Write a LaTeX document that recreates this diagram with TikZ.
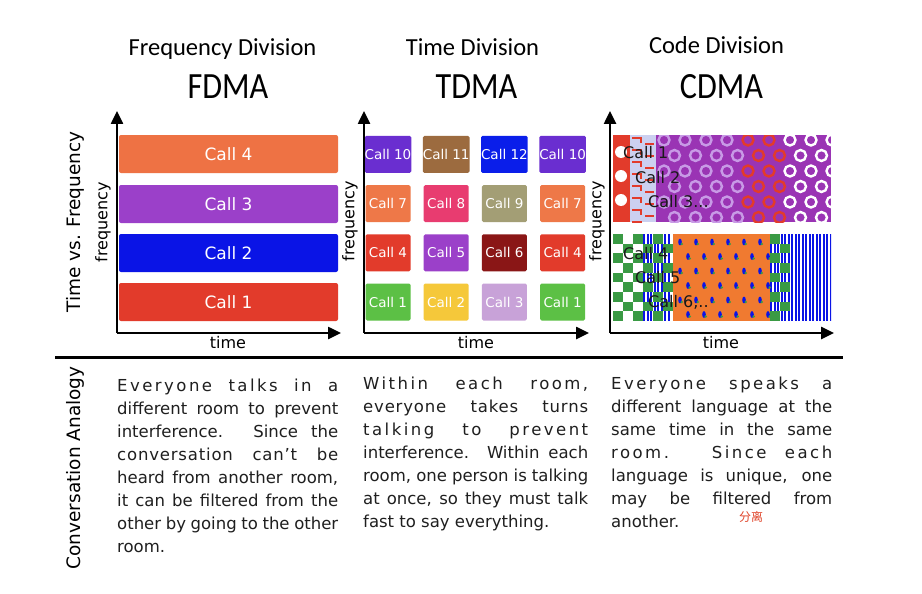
\documentclass[tikz,border=0pt]{standalone}
\usepackage{fontspec}
\setmainfont{DejaVu Sans}
\newfontfamily\titlefont{Carlito}
\newfontfamily\acrofont{Carlito}[FakeStretch=0.87]
\newfontfamily\cjkfont{Noto Sans CJK SC}
\usetikzlibrary{arrows.meta}

\definecolor{fdorange}{HTML}{EE7244}
\definecolor{fdpurple}{HTML}{9B40C9}
\definecolor{fdblue}{HTML}{0A14E6}
\definecolor{fdred}{HTML}{E23B2B}
\definecolor{tdviolet}{HTML}{6A2ED0}
\definecolor{tdbrown}{HTML}{9C6B3F}
\definecolor{tdblue}{HTML}{0A1EEA}
\definecolor{tdorange}{HTML}{EE7848}
\definecolor{tdpink}{HTML}{E83C70}
\definecolor{tdkhaki}{HTML}{A39E75}
\definecolor{tdmaroon}{HTML}{8A1616}
\definecolor{tdgreen}{HTML}{5CC045}
\definecolor{tdyellow}{HTML}{F5C83A}
\definecolor{tdlilac}{HTML}{C8A2D8}
\definecolor{cdpurple}{HTML}{9A34B4}
\definecolor{cdlilac}{HTML}{C89AE6}
\definecolor{cdpale}{HTML}{CCD0F0}
\definecolor{cdgreen}{HTML}{3A9A44}
\definecolor{cdorange}{HTML}{F07A30}
\definecolor{inkred}{HTML}{E0452A}

% Tracked-out lines of the justified analogies
\newcommand{\wide}[1]{{\addfontfeature{LetterSpace=15}#1}}
\newcommand{\loose}[1]{{\addfontfeature{LetterSpace=5}#1}}

\tikzset{
    % Heavy triangular heads for the chart axes
    >={Triangle[length=13pt,width=12pt]},
%
    % The time and frequency axes of each chart
    chart axis/.style={draw, line width=2.5pt, ->},
%
    % One frequency band of the FDMA chart
    fd band/.style={rectangle, rounded corners=2pt, minimum width=219pt,
        minimum height=38pt, text=white, font=\fontsize{17}{17}\selectfont},
%
    % One time slot of the TDMA chart
    td slot/.style={rectangle, rounded corners=1.5pt, minimum width=45pt,
        minimum height=37pt, inner sep=0pt, text=white,
        font=\fontsize{13.5}{13.5}\selectfont},
%
    % Call names written over the CDMA codes
    code label/.style={anchor=west, inner sep=0pt, text=black!90,
        font=\fontsize{16}{16}\selectfont},
%
    % Texts round the charts
    axis label/.style={font=\fontsize{16}{16}\selectfont},
    side label/.style={rotate=90, font=\fontsize{18.5}{18.5}\selectfont},
    head title/.style={anchor=base, font=\titlefont\fontsize{24.5}{24.5}\selectfont},
    acronym/.style={anchor=base, font=\acrofont\fontsize{37}{37}\selectfont},
    analogy/.style={anchor=north west, inner sep=0pt, align=justify,
        text=black!88, font=\fontsize{16.5}{23}\selectfont}}

\begin{document}
\begin{tikzpicture}[x=1pt, y=-1pt]

\useasboundingbox (0,0) rectangle (922,594);
\fill[white] (0,0) rectangle (922,594);

% titles
\node[head title] (fd-title) at (222.5,56) {Frequency Division};
\node[head title] (td-title) at (472.5,56) {Time Division};
\node[head title] (cd-title) at (716.5,54) {Code Division};
\node[acronym] (fd-name) at (228,99) {FDMA};
\node[acronym] (td-name) at (476.5,99) {TDMA};
\node[acronym] (cd-name) at (721.5,99) {CDMA};

\node[side label] (tf-label) at (75,222) {Time vs. Frequency};
\node[side label] (ca-label) at (75,468) {Conversation Analogy};

% FDMA: one band per call
\node[fd band, fill=fdorange] (fd-4) at (228.5,154) {Call 4};
\node[fd band, fill=fdpurple] (fd-3) at (228.5,204) {Call 3};
\node[fd band, fill=fdblue]   (fd-2) at (228.5,253) {Call 2};
\node[fd band, fill=fdred]    (fd-1) at (228.5,302) {Call 1};

% TDMA: calls take turns in each band
\foreach \txt/\c/\r/\clr in {
    Call 1/0/0/tdgreen, Call 2/1/0/tdyellow, Call 3/2/0/tdlilac, Call 1/3/0/tdgreen,
    Call 4/0/1/fdred, Call 5/1/1/fdpurple, Call 6/2/1/tdmaroon, Call 4/3/1/fdred,
    Call 7/0/2/tdorange, Call 8/1/2/tdpink, Call 9/2/2/tdkhaki, Call 7/3/2/tdorange,
    Call 10/0/3/tdviolet, Call 11/1/3/tdbrown, Call 12/2/3/tdblue, Call 10/3/3/tdviolet}
    \node[td slot, fill=\clr] (td-\r-\c) at ({388+58.2*\c},{302-49.2*\r}) {\txt};

% CDMA: upper block of overlaid codes
\begin{scope}
    \clip (613,135) rectangle (831,222);
    \fill[cdpurple] (613,135) rectangle (831,222);
    \fill[fdred] (613,135) rectangle (630,222);
    \fill[cdpale] (630,135) rectangle (656,222);
    \foreach \y in {138,150,...,222}
        \draw[fdred, line width=1.5pt]
            (632,\y) -- ++(9,0) -- ++(0,5) (645,{\y+6}) -- ++(9,0);
    \foreach \y in {152,176,200}
        \fill[white] (621,\y) circle (6);
    \foreach \r in {0,...,5}
        \foreach \c in {0,...,8} {
            \pgfmathsetmacro\rx{664+21*\c+10.5*mod(\r,2)}
            \pgfmathsetmacro\ry{140+15.5*\r}
            \ifdim\rx pt<745pt \def\rc{cdlilac}\else
                \ifdim\rx pt<790pt \def\rc{fdred}\else\def\rc{white}\fi\fi
            \draw[\rc, line width=2.4pt] (\rx,\ry) circle (5.5);
        }
\end{scope}

% CDMA: lower block of overlaid codes
\begin{scope}
    \clip (613,234) rectangle (831,321);
    \fill[cdorange] (673,234) rectangle (770,321);
    \foreach \x in {643,646.5,...,670}
        \fill[fdblue] (\x,234) rectangle ++(2,87);
    \foreach \x in {770,773.5,...,830}
        \fill[fdblue] (\x,234) rectangle ++(2,87);
    \foreach \x [count=\i] in {613,623,633,643,653,663,770,780}
        \foreach \j in {0,...,8} {
            \pgfmathtruncatemacro\odd{mod(\i+\j,2)}
            \ifnum\odd=1 \fill[cdgreen] (\x,{234+9.667*\j}) rectangle ++(10,9.667); \fi
        }
    \foreach \r in {0,...,5}
        \foreach \c in {0,...,5} {
            \pgfmathsetmacro\dx{680+16*\c+8*mod(\r,2)}
            \pgfmathsetmacro\dy{242+14.5*\r}
            \fill[fdblue] (\dx,\dy) ellipse (1.8 and 3.4);
            \fill[cdgreen] ({\dx+1.8},{\dy+2}) circle (1.4);
        }
\end{scope}

\node[code label] (cd-1) at (623,153) {Call 1};
\node[code label] (cd-2) at (635,178) {Call 2};
\node[code label] (cd-3) at (648,202) {Call 3...};
\node[code label] (cd-4) at (623,254) {Call 4};
\node[code label] (cd-5) at (635,278) {Call 5};
\node[code label] (cd-6) at (648,302) {Call 6,..};

% axes
\foreach \name/\ox/\ex in {fd/117/341, td/364/589, cd/610/834} {
    \coordinate (\name-origin) at (\ox,333);
    \coordinate (\name-top) at (\ox,111);
    \coordinate (\name-end) at (\ex,333);
    \draw[chart axis] (\name-origin) -- (\name-top);
    \draw[chart axis] (\name-origin) -- (\name-end);
}
\node[axis label, rotate=90] (fd-freq) at (103,222) {frequency};
\node[axis label, rotate=90] (td-freq) at (350,221) {frequency};
\node[axis label, rotate=90] (cd-freq) at (597,221) {frequency};
\node[axis label] (fd-time) at (228,343) {time};
\node[axis label] (td-time) at (476,343) {time};
\node[axis label] (cd-time) at (721,343) {time};

\draw[line width=3pt] (55,357) -- (843,357);

% the analogies
\node[analogy, text width=221pt] (fd-text) at (117,378.5)
    {\wide{Everyone talks in a}\linebreak different room to prevent\linebreak
     interference.  Since the\linebreak \loose{conversation can’t be}\linebreak
     heard from another room,\linebreak it can be filtered from the\linebreak
     other by going to the other\linebreak room.};
\node[analogy, text width=225pt] (td-text) at (363,376.5)
    {\wide{Within each room,}\linebreak \loose{everyone takes turns}\linebreak
     \wide{talking to prevent}\linebreak interference.  Within each\linebreak
     room, one person is talking\linebreak at once, so they must talk\linebreak
     fast to say everything.};
\node[analogy, text width=221pt] (cd-text) at (611,376.5)
    {\wide{Everyone speaks a}\linebreak different language at the\linebreak
     same time in the same\linebreak \wide{room.  Since each}\linebreak
     language is unique, one\linebreak may be filtered from\linebreak
     another.};
\node[text=inkred, font=\cjkfont\fontsize{12}{12}\selectfont] (note) at (751,517) {分离};

\end{tikzpicture}
\end{document}
